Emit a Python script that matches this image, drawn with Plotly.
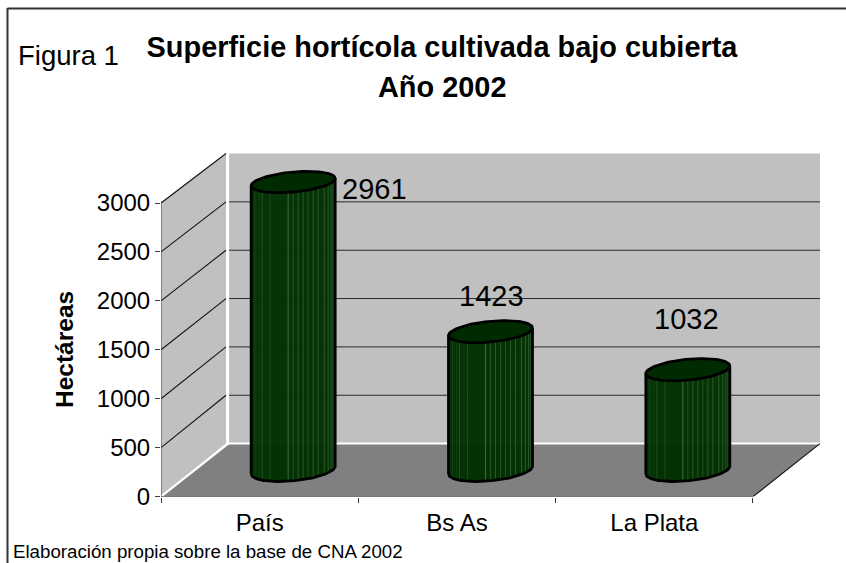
import numpy as np
import plotly.graph_objects as go

# ---- data ----
categories = ["País", "Bs As", "La Plata"]
values = [2961, 1423, 1032]
y_ticks = [0, 500, 1000, 1500, 2000, 2500, 3000]
label_shift_x = [81, 1, -1]
label_shift_y = [-7, 36, 51]

title_line1 = "Superficie hortícola cultivada bajo cubierta"
title_line2 = "Año 2002"
figure_label = "Figura 1"
y_title = "Hectáreas"
source_note = "Elaboración propia sobre la base de CNA 2002"

# ---- page geometry (pixels) ----
W, H = 846, 563
X0_PX, CAT_PX = 161.0, 197.33
Y0_PX, V_PX = 496.6, 293.6 / 3000
DEPTH_X_PX, DEPTH_Y_PX = 67.0, 53.0
BACK_SCALE = 0.988
TOP_PX = 130.0
RIGHT_PX = X0_PX + 3 * CAT_PX + DEPTH_X_PX
FONT = "Liberation Sans"

depth_x = DEPTH_X_PX / CAT_PX
depth_y = DEPTH_Y_PX / V_PX
y_top = (Y0_PX - TOP_PX) / V_PX
x_lo, x_hi = -0.5, 2.5
v_top = y_ticks[-1]


def dx(x, d):
    return np.asarray(x, dtype=float) + np.asarray(d, dtype=float) * depth_x


def dy(v, d):
    d = np.asarray(d, dtype=float)
    return np.asarray(v, dtype=float) * (1 - d * (1 - BACK_SCALE)) + d * depth_y


fig = go.Figure()


def poly(xs, ys, fill=None, line=None, width=1):
    fig.add_trace(go.Scatter(
        x=list(xs), y=list(ys), mode="lines",
        fill="toself" if fill else "none", fillcolor=fill,
        line=dict(color=line or "rgba(0,0,0,0)", width=width if line else 0),
        hoverinfo="skip", showlegend=False))


# walls
wall_gap = 2.0 / CAT_PX
poly([dx(x_lo, 0), dx(x_lo, 1) - wall_gap, dx(x_lo, 1) - wall_gap, dx(x_lo, 0)],
     [dy(0, 0), dy(0, 1), dy(v_top, 1), dy(v_top, 0)], fill="#c0c0c0")
poly([dx(x_lo, 1) + wall_gap / 2, dx(x_hi, 1), dx(x_hi, 1), dx(x_lo, 1) + wall_gap / 2],
     [dy(0, 1), dy(0, 1), dy(v_top, 1), dy(v_top, 1)], fill="#c0c0c0")

# gridlines on both walls
for v in y_ticks[1:]:
    poly([dx(x_lo, 0), dx(x_lo, 1) - wall_gap], [dy(v, 0), dy(v, 1)], line="#111111", width=1.1)
    if v != v_top:
        poly([dx(x_lo, 1) + wall_gap / 2, dx(x_hi, 1)], [dy(v, 1), dy(v, 1)], line="#2a2a2a", width=1)

# floor
poly([dx(x_lo, 0), dx(x_hi, 0), dx(x_hi, 1), dx(x_lo, 1)],
     [dy(0, 0), dy(0, 0), dy(0, 1), dy(0, 1)], fill="#808080")

# white wall edges
poly([dx(x_lo, 0), dx(x_lo, 1), dx(x_lo, 1)], [dy(0, 0), dy(0, 1), dy(v_top, 1)], line="white", width=2.2)
poly([dx(x_lo, 1), dx(x_hi, 1)], [dy(0, 1), dy(0, 1)], line="white", width=2)

# axis lines
poly([dx(x_lo, 0), dx(x_lo, 0)], [dy(0, 0), dy(v_top, 0)], line="#555555", width=1.2)
poly([dx(x_lo, 0), dx(x_hi, 0), dx(x_hi, 1)], [dy(0, 0), dy(0, 0), dy(0, 1)], line="#111111", width=1.2)

# cylinders
R_PX = 42.0
RD = 0.215
b_px = RD * DEPTH_X_PX
rx_px = np.sqrt(R_PX ** 2 - b_px ** 2)
t0 = np.arctan2(b_px, rx_px)
stripe_offsets = [4, 8, 11, 19, 37, 42, 47, 52, 57, 62, 67, 73, 77, 80, 82]
stripe_alpha = [.1, .08, .22, .18, .45, .25, .3, .25, .22, .28, .28, .3, .3, .28, .22]


def ring(cat, v, t):
    d = 0.5 + RD * np.sin(t)
    return dx(cat + rx_px / CAT_PX * np.cos(t), d), dy(v, d)


for i, v in enumerate(values):
    phi = np.linspace(np.pi, 2 * np.pi, 60)
    bx, by = ring(i, 0, t0 + phi)
    tx, ty = ring(i, v, t0 + phi)
    poly(list(bx) + list(tx[::-1]) + [bx[0]], list(by) + list(ty[::-1]) + [by[0]],
         fill="rgba(0,48,0,0.97)")
    for off, a in zip(stripe_offsets, stripe_alpha):
        p = 2 * np.pi - np.arccos(2 * off / (2 * R_PX) - 1)
        sx0, sy0 = ring(i, 0, t0 + p)
        sx1, sy1 = ring(i, v, t0 + p)
        poly([sx0, sx1], [sy0, sy1], line=f"rgba(130,185,130,{a})", width=1)
    poly(list(bx) + [tx[-1]], list(by) + [ty[-1]], line="black", width=2.8)
    poly([bx[0], tx[0]], [by[0], ty[0]], line="black", width=2.8)
    full = np.linspace(0, 2 * np.pi, 90)
    ex, ey = ring(i, v, full)
    poly(ex, ey, fill="#002b00", line="black", width=2.8)

# data labels
annotations = []
for i, v in enumerate(values):
    annotations.append(dict(
        x=float(dx(i, 0.5)), y=float(dy(v, 0.5)), xref="x", yref="y", text=str(v),
        showarrow=False, xanchor="center", yanchor="middle",
        xshift=label_shift_x[i], yshift=label_shift_y[i],
        font=dict(family=FONT, size=29, color="black")))

# page texts
for txt, px, py, size, bold, anchor, angle in [
    (title_line2, 442, 87, 28.9, True, "center", 0),
    (figure_label, 16, 55.5, 27.5, False, "left", 0),
    (source_note, 11, 551, 18.7, False, "left", 0),
    (y_title, 64, 350, 24.5, True, "center", -90),
]:
    annotations.append(dict(
        x=px / W, y=1 - py / H, xref="paper", yref="paper",
        text=f"<b>{txt}</b>" if bold else txt, showarrow=False,
        xanchor=anchor, yanchor="middle", textangle=angle,
        font=dict(family=FONT, size=size, color="black")))

fig.update_layout(
    width=W, height=H, autosize=False,
    margin=dict(l=0, r=0, t=0, b=0, pad=0, autoexpand=False),
    paper_bgcolor="white", plot_bgcolor="rgba(0,0,0,0)",
    showlegend=False,
    font=dict(family=FONT, color="black"),
    title=dict(text=f"<b>{title_line1}</b>", x=442 / W, xanchor="center",
               y=1 - 47 / H, yanchor="middle", font=dict(family=FONT, size=28.9, color="black")),
    xaxis=dict(
        domain=[X0_PX / W, RIGHT_PX / W], range=[x_lo, x_hi + depth_x],
        tickmode="array", tickvals=list(range(len(categories))), ticktext=categories,
        ticks="", ticklabelstandoff=9, showgrid=False, zeroline=False, showline=False,
        tickfont=dict(family=FONT, size=24, color="black"),
        minor=dict(tickmode="array", tickvals=[-0.5, 0.5, 1.5, 2.5], ticks="outside",
                   ticklen=5, tickwidth=1, tickcolor="#333333", showgrid=False),
    ),
    yaxis=dict(
        domain=[1 - Y0_PX / H, 1 - TOP_PX / H], range=[0, y_top],
        tickmode="array", tickvals=y_ticks, ticks="outside", ticklen=5, tickwidth=1,
        tickcolor="#444444", showgrid=False, zeroline=False, showline=False,
        tickfont=dict(family=FONT, size=24, color="black"),
    ),
    annotations=annotations,
    shapes=[
        dict(type="line", xref="paper", yref="paper", x0=7.5 / W, x1=1, y0=1 - 8.5 / H, y1=1 - 8.5 / H,
             line=dict(color="#333333", width=2)),
        dict(type="line", xref="paper", yref="paper", x0=7.5 / W, x1=7.5 / W, y0=0, y1=1 - 8 / H,
             line=dict(color="#333333", width=2)),
    ],
)

fig.write_html(
    "out.html",
    config={"displayModeBar": False, "responsive": False},
    default_width=W, default_height=H,
    post_script="document.body.style.margin='0';document.documentElement.style.overflow='hidden';",
)
